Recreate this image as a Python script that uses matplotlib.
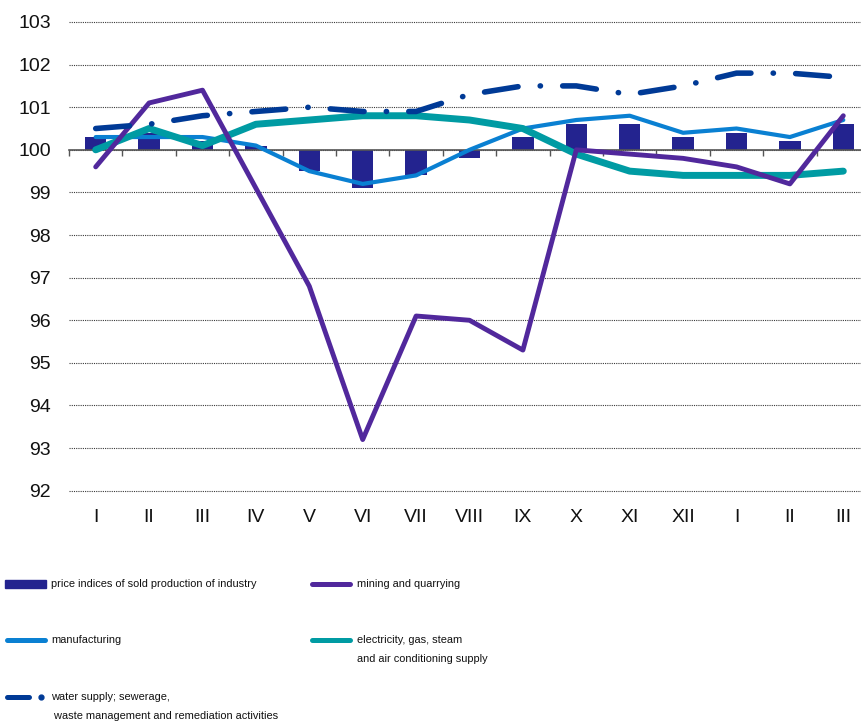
import numpy as np
import matplotlib
matplotlib.use("Agg")
import matplotlib.pyplot as plt
from matplotlib.lines import Line2D
from matplotlib.patches import Rectangle

months = ["I", "II", "III", "IV", "V", "VI", "VII", "VIII", "IX", "X", "XI", "XII", "I", "II", "III"]
industry = [100.3, 100.4, 100.2, 100.1, 99.5, 99.1, 99.4, 99.8, 100.3, 100.6, 100.6, 100.3, 100.4, 100.2, 100.6]
mining = [99.6, 101.1, 101.4, 99.1, 96.8, 93.2, 96.1, 96.0, 95.3, 100.0, 99.9, 99.8, 99.6, 99.2, 100.8]
manufacturing = [100.3, 100.3, 100.3, 100.1, 99.5, 99.2, 99.4, 100.0, 100.5, 100.7, 100.8, 100.4, 100.5, 100.3, 100.7]
electricity = [100.0, 100.5, 100.1, 100.6, 100.7, 100.8, 100.8, 100.7, 100.5, 99.9, 99.5, 99.4, 99.4, 99.4, 99.5]
water = [100.5, 100.6, 100.8, 100.9, 101.0, 100.9, 100.9, 101.3, 101.5, 101.5, 101.3, 101.5, 101.8, 101.8, 101.7]
yticks = list(range(92, 104))

labels = [
    "price indices of sold production of industry",
    "mining and quarrying",
    "manufacturing",
    "electricity, gas, steam\nand air conditioning supply",
    "water supply; sewerage,\n waste management and remediation activities",
]

C_BAR = "#23238F"
C_MIN = "#51289C"
C_MAN = "#0A80D2"
C_ELE = "#009BA3"
C_WAT = "#003A96"

W, H = 861, 727
fig = plt.figure(figsize=(W / 100, H / 100), dpi=100)
ax = fig.add_axes([69 / W, 1 - 490.7 / H, (870 - 69) / W, (490.7 - 22) / H])

x = np.arange(len(months))
ax.bar(x, np.array(industry) - 100, bottom=100, width=0.4, color=C_BAR, zorder=2)
ax.plot(x, manufacturing, color=C_MAN, lw=3.0, zorder=3, solid_joinstyle="round", solid_capstyle="round")
ax.plot(x, electricity, color=C_ELE, lw=5.0, zorder=4, solid_joinstyle="round", solid_capstyle="round")
ax.plot(x, mining, color=C_MIN, lw=3.5, zorder=5, solid_joinstyle="round", solid_capstyle="round")
ax.plot(x, water, color=C_WAT, lw=4.0, zorder=6, dashes=(6.1, 4.0, 0.05, 4.0),
        dash_capstyle="round", dash_joinstyle="round")

ax.set_xlim(-0.5, len(months) - 0.5)
ax.set_ylim(92, 103)
ax.set_yticks(yticks)
ax.set_yticklabels([str(v) for v in yticks])
ax.yaxis.grid(True, linestyle=(0, (1, 1)), color="#3a3a3a", lw=0.8)
for gl in ax.get_ygridlines():
    gl.set_clip_on(False)
ax.set_axisbelow(True)
ax.tick_params(axis="y", length=0, pad=13, labelsize=14)
for s in ["left", "right", "top"]:
    ax.spines[s].set_visible(False)
ax.spines["bottom"].set_position(("data", 100))
ax.spines["bottom"].set_color("#555555")
ax.spines["bottom"].set_linewidth(1.2)
ax.spines["bottom"].set_zorder(2.5)
ax.set_xticks(np.arange(-0.5, len(months), 1.0))
ax.tick_params(axis="x", length=4.5, width=1.0, color="#555555", direction="out", labelbottom=False)

sec = ax.secondary_xaxis("bottom")
sec.set_xticks(x)
sec.set_xticklabels(months)
sec.tick_params(axis="x", length=0, pad=13, labelsize=14)
sec.spines["bottom"].set_visible(False)

for t in ax.get_yticklabels() + sec.get_xticklabels():
    t.set_fontfamily(["Liberation Sans", "DejaVu Sans"])
    t.set_color("#111111")

# legend (manual, figure coordinates)
def fx(px):
    return px / W

def fy(py):
    return 1 - py / H

lfont = ["Liberation Sans", "DejaVu Sans"]
col_h = [5, 310]
col_t = [51, 357]
rows = [584, 640, 697]
entries = [(0, 0, "bar", C_BAR), (1, 0, "line", C_MIN), (0, 1, "line", C_MAN),
           (1, 1, "line", C_ELE), (0, 2, "dash", C_WAT)]
for lab, (c, r, kind, col) in zip(labels, entries):
    y = rows[r]
    if kind == "bar":
        fig.add_artist(Rectangle((fx(col_h[c]), fy(y + 4)), fx(41), 8 / H, color=col))
    elif kind == "line":
        fig.add_artist(Line2D([fx(col_h[c] + 2), fx(col_h[c] + 40)], [fy(y), fy(y)],
                              color=col, lw=3.6, solid_capstyle="round"))
    else:
        fig.add_artist(Line2D([fx(col_h[c] + 2), fx(col_h[c] + 24)], [fy(y), fy(y)],
                              color=col, lw=3.6, solid_capstyle="round"))
        fig.add_artist(Line2D([fx(col_h[c] + 36)], [fy(y)], marker="o", ms=3.5,
                              color=col, lw=0))
    for i, line in enumerate(lab.split("\n")):
        fig.text(fx(col_t[c]), fy(y + i * 19), line, ha="left", va="center",
                 fontsize=7.9, family=lfont, color="#111111")

fig.savefig("out.png", dpi=100)
